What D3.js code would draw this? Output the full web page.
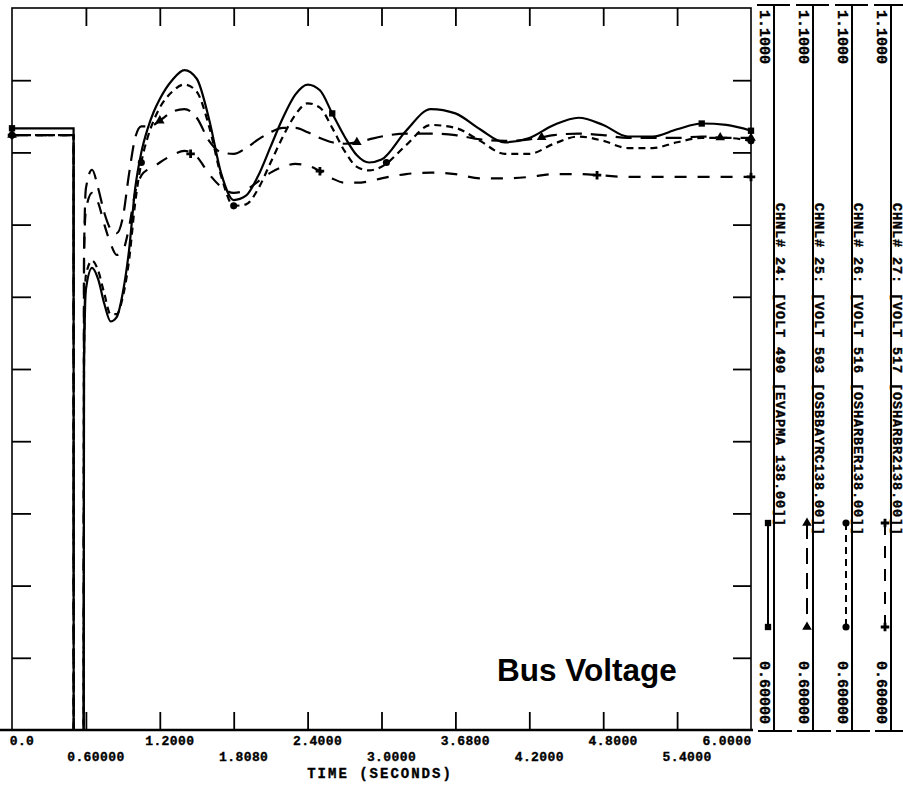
<!DOCTYPE html>
<html><head><meta charset="utf-8">
<script src="https://cdn.jsdelivr.net/npm/d3@7"></script>
<style>body{margin:0;background:#fff}svg{display:block}</style>
</head><body><svg id="c" width="903" height="788"></svg>
<script>
// ---------------- data ----------------
const time = [0,0.5,0.501,0.579,0.585,0.6,0.65,0.7,0.75,0.8,0.85,0.9,0.95,1.0,1.05,1.1,1.15,1.2,1.3,1.4,1.5,1.6,1.7,1.8,1.9,2.0,2.1,2.2,2.3,2.4,2.5,2.6,2.7,2.8,2.9,3.0,3.2,3.4,3.6,3.8,4.0,4.2,4.4,4.6,4.8,5.0,5.2,5.4,5.6,5.8,6.0];
// CHNL# 24 : bus 490 (solid)
const ch24 = [1.0167,1.0167,0.40,0.40,0.85,0.905,0.920,0.912,0.895,0.883,0.886,0.903,0.932,0.975,1.000,1.016,1.028,1.037,1.050,1.057,1.051,1.023,0.985,0.967,0.970,0.984,1.004,1.024,1.040,1.047,1.043,1.027,1.011,0.998,0.993,0.995,1.015,1.030,1.027,1.016,1.007,1.010,1.019,1.024,1.019,1.011,1.011,1.016,1.020,1.019,1.015];
// CHNL# 25 : bus 503 (long dash)
const ch25 = [1.012,1.012,0.40,0.40,0.93,0.975,0.988,0.975,0.958,0.947,0.944,0.955,0.985,1.010,1.018,1.018,1.019,1.022,1.028,1.030,1.024,1.008,1.000,0.999,1.003,1.009,1.014,1.017,1.017,1.014,1.010,1.007,1.006,1.007,1.009,1.011,1.013,1.013,1.012,1.009,1.008,1.009,1.012,1.013,1.012,1.010,1.010,1.010,1.011,1.010,1.010];
// CHNL# 26 : bus 516 (short dash)
const ch26 = [1.012,1.012,0.40,0.40,0.86,0.915,0.925,0.918,0.902,0.888,0.888,0.900,0.925,0.965,0.993,1.010,1.022,1.031,1.042,1.047,1.042,1.018,0.983,0.963,0.964,0.975,0.993,1.011,1.026,1.034,1.031,1.017,1.001,0.990,0.9875,0.990,1.005,1.019,1.017,1.008,0.999,0.999,1.006,1.011,1.008,1.003,1.003,1.007,1.010,1.010,1.008];
// CHNL# 27 : bus 517 (long dash, wide gaps)
const ch27 = [1.012,1.012,0.40,0.40,0.93,0.960,0.972,0.965,0.950,0.937,0.929,0.932,0.948,0.972,0.984,0.988,0.990,0.993,0.998,1.001,0.997,0.985,0.976,0.972,0.974,0.980,0.986,0.990,0.992,0.991,0.987,0.982,0.979,0.979,0.980,0.982,0.985,0.986,0.985,0.982,0.982,0.983,0.985,0.985,0.984,0.983,0.983,0.983,0.983,0.983,0.983];

const markerTimes24 = [0, 2.6, 5.6, 6.0];
const markerTimes25 = [0, 1.2, 2.8, 4.3, 5.75, 6.0];
const markerTimes26 = [0, 1.05, 1.8, 3.04, 6.0];
const markerTimes27 = [0, 1.45, 2.5, 4.75, 6.0];

const xTicks = [0,0.6,1.2,1.8,2.4,3.0,3.6,4.2,4.8,5.4,6.0];
const xTickLabels = ["0.0","0.60000","1.2000","1.8080","2.4000","3.0000","3.6800","4.2000","4.8000","5.4000","6.0000"];
const yTicks = [0.65,0.70,0.75,0.80,0.85,0.90,0.95,1.00,1.05];
const legendNames = ["CHNL# 24: [VOLT 490 [EVAPMA 138.00]]","CHNL# 25: [VOLT 503 [OSBBAYRC138.00]]","CHNL# 26: [VOLT 516 [OSHARBER138.00]]","CHNL# 27: [VOLT 517 [OSHARBR2138.00]]"];
const axisMax = "1.1000", axisMin = "0.60000";
const xTitle = "TIME (SECONDS)";
const chartTitle = "Bus Voltage";

// ---------------- drawing ----------------
const svg = d3.select("#c");
const x = d3.scaleLinear().domain([0,6]).range([12,751]);
const y = d3.scaleLinear().domain([0.6,1.1]).range([730,8]);

const series = [
  {vals: ch24, dash: null, marks: markerTimes24, sym: d3.symbolSquare},
  {vals: ch25, dash: "16,9", marks: markerTimes25, sym: d3.symbolTriangle},
  {vals: ch26, dash: "7,5", marks: markerTimes26, sym: d3.symbolCircle},
  {vals: ch27, dash: "12,11", marks: markerTimes27, sym: d3.symbolCross}
];

svg.append("defs").append("clipPath").attr("id","plot")
  .append("rect").attr("x",x(0)).attr("y",y(1.1)).attr("width",x(6)-x(0)).attr("height",y(0.6)-y(1.1));

// frame
svg.append("rect").attr("x",x(0)).attr("y",y(1.1)).attr("width",x(6)-x(0)).attr("height",y(0.6)-y(1.1))
  .attr("fill","none").attr("stroke","#000").attr("stroke-width",1.6);
svg.append("line").attr("x1",0).attr("x2",x(6)+2).attr("y1",y(0.6)).attr("y2",y(0.6)).attr("stroke","#000").attr("stroke-width",2.4);

// axes ticks
function styleAxis(g){ g.select(".domain").remove(); g.selectAll("line").attr("stroke","#000").attr("stroke-width",1.8); g.selectAll("text").remove(); }
svg.append("g").attr("transform",`translate(0,${y(0.6)})`).call(d3.axisTop(x).tickValues(xTicks.slice(1,-1)).tickSize(18).tickFormat("")).call(styleAxis);
svg.append("g").attr("transform",`translate(0,${y(1.1)})`).call(d3.axisBottom(x).tickValues(xTicks.slice(1,-1)).tickSize(18).tickFormat("")).call(styleAxis);
svg.append("g").attr("transform",`translate(${x(0)},0)`).call(d3.axisRight(y).tickValues(yTicks).tickSize(19).tickFormat("")).call(styleAxis);
svg.append("g").attr("transform",`translate(${x(6)},0)`).call(d3.axisLeft(y).tickValues(yTicks).tickSize(18).tickFormat("")).call(styleAxis);

// x tick labels (two staggered rows)
svg.append("g").selectAll("text").data(xTicks).join("text")
  .attr("x",(d)=>Math.min(x(d)+10, x(6)-24))
  .attr("y",(d,i)=> i%2===0 ? 745 : 761)
  .attr("text-anchor","middle")
  .attr("font-family","'Liberation Mono', monospace").attr("font-weight","bold").attr("font-size",13)
  .attr("letter-spacing",0.4).attr("stroke","#000").attr("stroke-width",0.35)
  .text((d,i)=>xTickLabels[i]);

svg.append("text").attr("x",380).attr("y",778).attr("text-anchor","middle")
  .attr("font-family","'Liberation Mono', monospace").attr("font-weight","bold").attr("font-size",14)
  .attr("letter-spacing",2).attr("stroke","#000").attr("stroke-width",0.35).text(xTitle);

// curves
const line = d3.line().x((d,i)=>x(time[i])).y(d=>y(d)).curve(d3.curveMonotoneX);
const plot = svg.append("g").attr("clip-path","url(#plot)");
series.forEach(s=>{
  plot.append("path").datum(s.vals).attr("d",line).attr("fill","none").attr("stroke","#000")
    .attr("stroke-width",2.2).attr("stroke-dasharray",s.dash);
});
function valueAt(vals,t){
  const i = Math.max(1, d3.bisectLeft(time,t));
  if (i>=time.length) return vals[vals.length-1];
  const t0=time[i-1], t1=time[i];
  return vals[i-1] + (vals[i]-vals[i-1])*(t-t0)/(t1-t0);
}
series.forEach(s=>{
  svg.append("g").selectAll("path").data(s.marks).join("path")
    .attr("transform",d=>`translate(${x(d)},${y(valueAt(s.vals,d))})`)
    .attr("d",d3.symbol().type(s.sym).size(40)).attr("fill","#000");
});

// title
svg.append("text").attr("x",497).attr("y",681).attr("font-family","'Liberation Sans', Arial, sans-serif")
  .attr("font-weight","bold").attr("font-size",31.5).attr("fill","#000").text(chartTitle);

// right-hand legend panels
const panelX = [774, 813, 852, 891];
const ly = d3.scaleLinear().domain([0,1]).range([523,627]);
panelX.forEach((px,i)=>{
  const g = svg.append("g");
  g.append("line").attr("x1",px).attr("x2",px).attr("y1",5).attr("y2",731).attr("stroke","#000").attr("stroke-width",2);
  g.append("line").attr("x1",px-17).attr("x2",Math.min(px+16,903)).attr("y1",5).attr("y2",5).attr("stroke","#000").attr("stroke-width",2);
  g.append("line").attr("x1",px-16).attr("x2",Math.min(px+18,903)).attr("y1",731).attr("y2",731).attr("stroke","#000").attr("stroke-width",2);
  const txt = (t,xx,yy,fs,ls)=> g.append("text").attr("transform",`translate(${xx},${yy}) rotate(90)`)
    .attr("font-family","'Liberation Mono', monospace").attr("font-weight","bold").attr("font-size",fs)
    .attr("letter-spacing",ls).attr("stroke","#000").attr("stroke-width",0.4).text(t);
  txt(axisMax, px-14, 10, 15, 0);
  txt(axisMin, px-14, 661, 15, 0);
  txt(legendNames[i], px+2, 203, 13.5, 0.9);
  const s = series[i];
  const sx = px-6;
  g.append("line").attr("x1",sx).attr("x2",sx).attr("y1",ly(0)).attr("y2",ly(1)).attr("stroke","#000")
    .attr("stroke-width",2).attr("stroke-dasharray",s.dash);
  g.selectAll("path.m").data([0,1]).join("path").attr("class","m")
    .attr("transform",d=>`translate(${sx},${ly(d)})`)
    .attr("d",d3.symbol().type(s.sym).size(40)).attr("fill","#000");
});
</script>
</body></html>
